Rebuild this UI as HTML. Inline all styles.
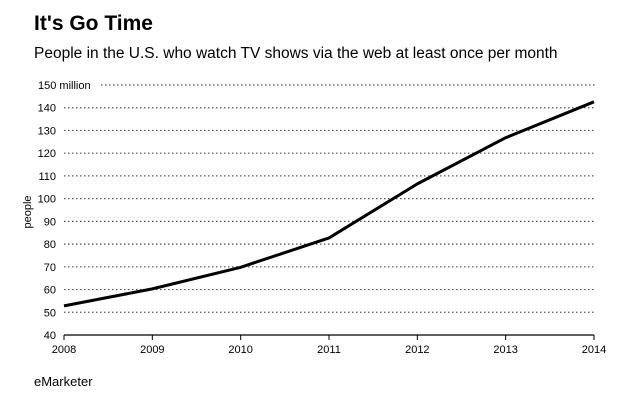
<!DOCTYPE html>
<html><head><meta charset="utf-8"><style>
body{margin:0;background:#fff;font-family:"Liberation Sans",Arial,sans-serif;}
svg text{font-family:"Liberation Sans",Arial,sans-serif;}
</style></head><body>
<svg width="630" height="400">
<text x="34" y="30" font-size="21" font-weight="bold" fill="#000">It's Go Time</text>
<text x="34" y="58" font-size="15.5" fill="#000">People in the U.S. who watch TV shows via the web at least once per month</text>
<text transform="translate(31,212) rotate(-90)" text-anchor="middle" font-size="11">people</text>
<text x="34" y="386" font-size="13">eMarketer</text>
<g id="grid"></g><g id="axes"></g><g id="series"></g>
</svg>
<script>
const years=[2008,2009,2010,2011,2012,2013,2014];
const viewers=[52.8,60.3,69.8,82.7,106.5,126.8,142.6];
const yTicks=[40,50,60,70,80,90,100,110,120,130,140,150];
const NS="http://www.w3.org/2000/svg";
const x=v=>64+(v-2008)*(594-64)/6;
const y=v=>335-(v-40)*(250/110);
function mk(t,a,p){const e=document.createElementNS(NS,t);for(const k in a)e.setAttribute(k,a[k]);p.appendChild(e);return e;}
const grid=document.getElementById('grid'),axes=document.getElementById('axes'),series=document.getElementById('series');
yTicks.forEach(v=>{
  const lab=v===150?'150 million':String(v);
  const gx=v===150?101:64;
  if(v!==40){const l=mk('line',{x1:gx,x2:596,y1:y(v),y2:y(v),stroke:'#555','stroke-width':1.2,'stroke-dasharray':'1.5,2.5'},grid);
  
  }
  const t=mk('text',{x:v===150?57:56,y:y(v)+4,'font-size':11,'text-anchor':v===150?'start':'end'},axes);
  if(v===150)t.setAttribute('x',38);
  t.textContent=lab;
  
  
});
const ax=mk('line',{x1:x(2008),x2:x(2014),y1:y(40),y2:y(40),stroke:'#000','stroke-width':1.2},axes);


years.forEach(yr=>{
  const tk=mk('line',{x1:x(yr),x2:x(yr),y1:y(40),y2:y(40)+5,stroke:'#000','stroke-width':1},axes);
  
  
  const t=mk('text',{x:x(yr),y:353,'font-size':11,'text-anchor':'middle'},axes);
  t.textContent=yr;
  
  
});
const pl=mk('polyline',{points:years.map((yr,i)=>x(yr)+','+y(viewers[i])).join(' '),fill:'none',stroke:'#000','stroke-width':3,'stroke-linejoin':'round'},series);


</script>
</body></html>
